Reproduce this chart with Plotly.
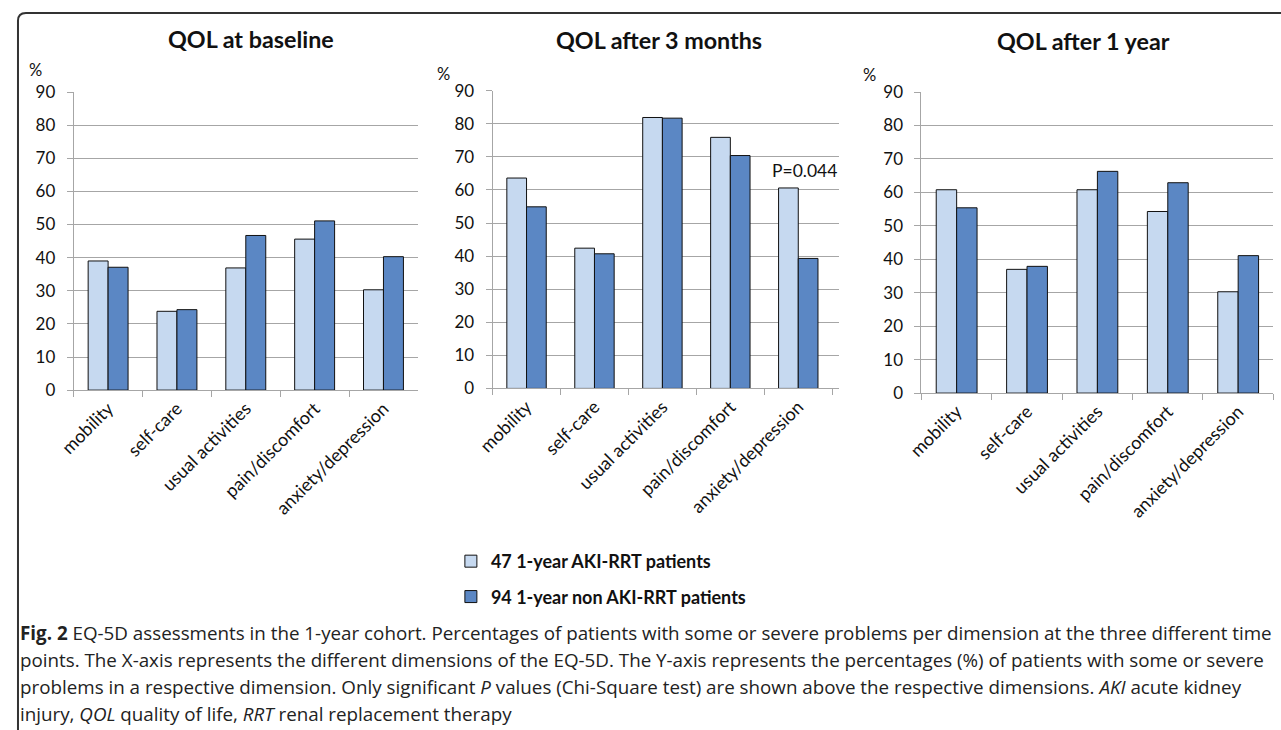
import plotly.graph_objects as go

# EQ-5D dimensions shown on every panel
dimensions = ["mobility", "self-care", "usual activities", "pain/discomfort", "anxiety/depression"]

# Percentages of patients with some or severe problems
aki_baseline = [39.0, 23.8, 36.9, 45.6, 30.3]
non_aki_baseline = [37.1, 24.3, 46.7, 51.1, 40.3]

aki_3months = [63.6, 42.4, 81.9, 75.9, 60.6]
non_aki_3months = [54.9, 40.7, 81.7, 70.4, 39.3]

aki_1year = [60.8, 37.0, 60.8, 54.3, 30.3]
non_aki_1year = [55.4, 37.9, 66.3, 62.9, 41.1]

panel_titles = ["QOL at baseline", "QOL after 3 months", "QOL after 1 year"]
series_names = ["47 1-year AKI-RRT patients", "94 1-year non AKI-RRT patients"]
y_ticks = [0, 10, 20, 30, 40, 50, 60, 70, 80, 90]

p_label = "P=0.044"
p_dimension = "anxiety/depression"

caption_lines = [
    "<b>Fig. 2</b> EQ-5D assessments in the 1-year cohort. Percentages of patients with some or severe problems per dimension at the three different time",
    "points. The X-axis represents the different dimensions of the EQ-5D. The Y-axis represents the percentages (%) of patients with some or severe",
    "problems in a respective dimension. Only significant <i>P</i> values (Chi-Square test) are shown above the respective dimensions. <i>AKI</i> acute kidney",
    "injury, <i>QOL</i> quality of life, <i>RRT</i> renal replacement therapy",
]

W, H = 1281, 730

# the page shows the figure inset and fitted back to the window;
# these helpers turn window positions into paper fractions
SX, OX = 0.987, 16.0
SY, OY = 0.9786, 9.0


def px(x):
    return max((x - OX) / SX, 1.0) / W


def py(y):
    return 1 - (y - OY) / SY / H


LIGHT = "#c6d9f0"
DARK = "#5b87c4"
GRID = "#a6a6a6"
FONT = "Lato, 'Open Sans', sans-serif"

panels = [
    (aki_baseline, non_aki_baseline),
    (aki_3months, non_aki_3months),
    (aki_1year, non_aki_1year),
]

# window geometry of each plotting area: (left, right, bottom, top)
areas = [
    (72.7, 417.0, 391.0, 90.7),
    (491.7, 838.0, 389.3, 89.3),
    (920.7, 1272.7, 394.0, 90.7),
]
title_pos = [(250, 37), (658, 38), (1083, 39)]
pct_pos = [(35, 68), (443, 72), (869, 73)]

fig = go.Figure()

for i, (light, dark) in enumerate(panels):
    ax = "" if i == 0 else str(i + 1)
    fig.add_trace(go.Bar(
        x=dimensions, y=light, name=series_names[0],
        marker=dict(color=LIGHT, line=dict(color="#111111", width=1)),
        xaxis="x" + ax, yaxis="y" + ax, showlegend=(i == 0), legendgroup="a",
        hoverinfo="y",
    ))
    fig.add_trace(go.Bar(
        x=dimensions, y=dark, name=series_names[1],
        marker=dict(color=DARK, line=dict(color="#111111", width=1)),
        xaxis="x" + ax, yaxis="y" + ax, showlegend=(i == 0), legendgroup="b",
        hoverinfo="y",
    ))

layout = dict(
    width=W, height=H,
    margin=dict(l=0, r=0, t=0, b=0),
    paper_bgcolor="white", plot_bgcolor="white",
    barmode="group", bargap=0.42, bargroupgap=0,
    font=dict(family=FONT, size=15, color="#111111"),
    showlegend=True,
    legend=dict(
        x=px(450), y=py(545), xanchor="left", yanchor="top",
        font=dict(family=FONT, size=18, color="#111111", weight="bold"),
        tracegroupgap=9, itemwidth=30, bgcolor="rgba(0,0,0,0)",
    ),
)

annotations = []
for i, (l, r, b, t) in enumerate(areas):
    ax = "" if i == 0 else str(i + 1)
    layout["xaxis" + ax] = dict(
        domain=[px(l), px(r)], anchor="y" + ax,
        showline=True, linecolor=GRID, linewidth=1,
        ticks="outside", tickson="boundaries", ticklen=6, tickcolor=GRID,
        tickangle=-45, tickfont=dict(family=FONT, size=18, color="#111111"),
        showgrid=False, fixedrange=True,
    )
    layout["yaxis" + ax] = dict(
        domain=[py(b), py(t)], anchor="x" + ax,
        range=[0, 90], tickvals=y_ticks,
        showline=True, linecolor=GRID, linewidth=1,
        ticks="outside", ticklen=6, tickcolor=GRID, ticklabelstandoff=8,
        showgrid=True, gridcolor=GRID, gridwidth=1, zeroline=False,
        tickfont=dict(family=FONT, size=17, color="#111111"), fixedrange=True,
    )
    tx, ty = title_pos[i]
    annotations.append(dict(
        text=panel_titles[i], x=px(tx), y=py(ty), xref="paper", yref="paper",
        xanchor="center", yanchor="middle", showarrow=False,
        font=dict(family=FONT, size=23.3, color="#111111", weight="bold"),
    ))
    cx, cy = pct_pos[i]
    annotations.append(dict(
        text="%", x=px(cx), y=py(cy), xref="paper", yref="paper",
        xanchor="center", yanchor="middle", showarrow=False,
        font=dict(family=FONT, size=16.5, color="#111111"),
    ))

# significance label above the 3-month anxiety/depression bars
k = dimensions.index(p_dimension)
annotations.append(dict(
    text=p_label, x=p_dimension, y=max(aki_3months[k], non_aki_3months[k]),
    xref="x2", yref="y2", xanchor="center", yanchor="bottom", xshift=6, yshift=5,
    showarrow=False, font=dict(family=FONT, size=17.5, color="#111111"),
))

for j, line in enumerate(caption_lines):
    annotations.append(dict(
        text=line, x=px(13), y=py(636 + 27 * j), xref="paper", yref="paper",
        xanchor="left", yanchor="middle", showarrow=False, align="left",
        font=dict(family="'Open Sans', sans-serif", size=18.8, color="#222222"),
    ))

layout["annotations"] = annotations

# rounded frame around the figure panels
fx0, fy0, fx1, fy1 = px(10), py(11), 1.02, -0.02
rx, ry = 8 / W, 8 / H
layout["shapes"] = [dict(
    type="path", xref="paper", yref="paper",
    path=(f"M {fx0},{fy1} L {fx0},{fy0 - ry} "
          f"Q {fx0},{fy0} {fx0 + rx},{fy0} L {fx1},{fy0}"),
    line=dict(color="#333333", width=2),
)]

fig.update_layout(**layout)
fig.write_html("out.html")
